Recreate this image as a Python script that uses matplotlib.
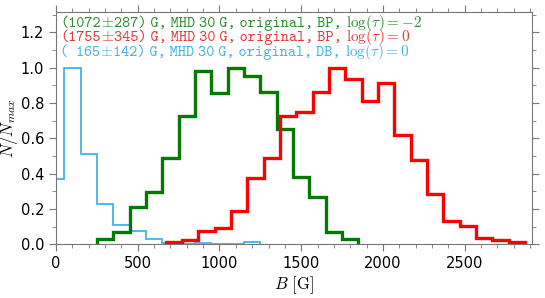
import numpy as np
import matplotlib
matplotlib.use('Agg')
import matplotlib.pyplot as plt
from matplotlib.ticker import MultipleLocator, FormatStrFormatter

plt.rcParams['mathtext.fontset'] = 'cm'

# normalised histograms, 100 G bins
green_edges = np.arange(250, 1851, 100)
green_vals = [0.028, 0.068, 0.209, 0.298, 0.487, 0.726, 0.982, 0.855,
              1.0, 0.952, 0.864, 0.652, 0.383, 0.266, 0.068, 0.028]

red_edges = np.arange(670, 2871, 100)
red_vals = [0.011, 0.024, 0.075, 0.094, 0.19, 0.377, 0.49, 0.728, 0.747,
            0.864, 1.0, 0.935, 0.813, 0.914, 0.619, 0.48, 0.285, 0.134,
            0.104, 0.034, 0.024, 0.011]

cyan_edges = np.arange(-50, 1251, 100)
cyan_vals = [0.37, 1.0, 0.51, 0.23, 0.11, 0.075, 0.03, 0.005, 0.004,
             0.01, 0.004, 0.004, 0.011]

means = ['(1072', '(1755', '(\u2002165']
sigmas = ['287)', '345)', '142)']
methods = ['BP', 'BP', 'DB']
taus = [r'$\log(\tau)=-2$', r'$\log(\tau)=0$', r'$\log(\tau)=0$']
text_colors = ['#2f8f2f', '#e83a3a', '#45b4e6']

fig = plt.figure(figsize=(5.45, 2.98), dpi=100)
ax = fig.add_axes([0.1028, 0.180, 0.8728, 0.7787])

ax.stairs(cyan_vals, cyan_edges, color='#40b4e8', lw=1.3)
ax.stairs(green_vals, green_edges, color='#007a00', lw=2.4)
ax.stairs(red_vals, red_edges, color='#ff0000', lw=2.4)

ax.set_xlim(0, 2910)
ax.set_ylim(0, 1.313)
ax.xaxis.set_major_locator(MultipleLocator(500))
ax.xaxis.set_minor_locator(MultipleLocator(100))
ax.yaxis.set_major_locator(MultipleLocator(0.2))
ax.yaxis.set_minor_locator(MultipleLocator(0.1))
ax.yaxis.set_major_formatter(FormatStrFormatter('%.1f'))
ax.tick_params(which='both', direction='out', top=True, right=True,
               color='#777777', labelsize=10.5, labeltop=False, labelright=False)
ax.tick_params(which='major', length=5)
ax.tick_params(which='minor', length=3)
for s in ax.spines.values():
    s.set_color('#777777')

ax.set_xlabel(r'$B\ [\mathrm{G}]$', fontsize=12, labelpad=2)
ax.set_ylabel(r'$N/N_{max}$', fontsize=12)
ax.yaxis.set_label_coords(-0.076, 0.5)

fig.canvas.draw()
rend = fig.canvas.get_renderer()
tt = dict(fontsize=11.2, family=['cmtt10', 'DejaVu Sans'])
sp = '\u2005'


def put(x, y, s, color, **kw):
    # place a piece of text and return where the next one starts
    t = ax.text(x, y, s, transform=ax.transAxes, color=color,
                va='baseline', **kw)
    bb = t.get_window_extent(renderer=rend)
    return ax.transAxes.inverted().transform((bb.x1, 0))[0]


for i in range(3):
    y = 0.937 - i * 0.0625
    c = text_colors[i]
    x = put(0.009, y, means[i], c, **tt)
    x = put(x, y, r'$\pm$', c, fontsize=11)
    rest = (sigmas[i] + sp + 'G,' + sp + 'MHD' + sp + '30' + sp + 'G,' + sp
            + 'original,' + sp + methods[i] + ',' + sp)
    x = put(x, y, rest, c, **tt)
    put(x, y, taus[i], c, fontsize=11)

fig.savefig('out.png', dpi=100)
